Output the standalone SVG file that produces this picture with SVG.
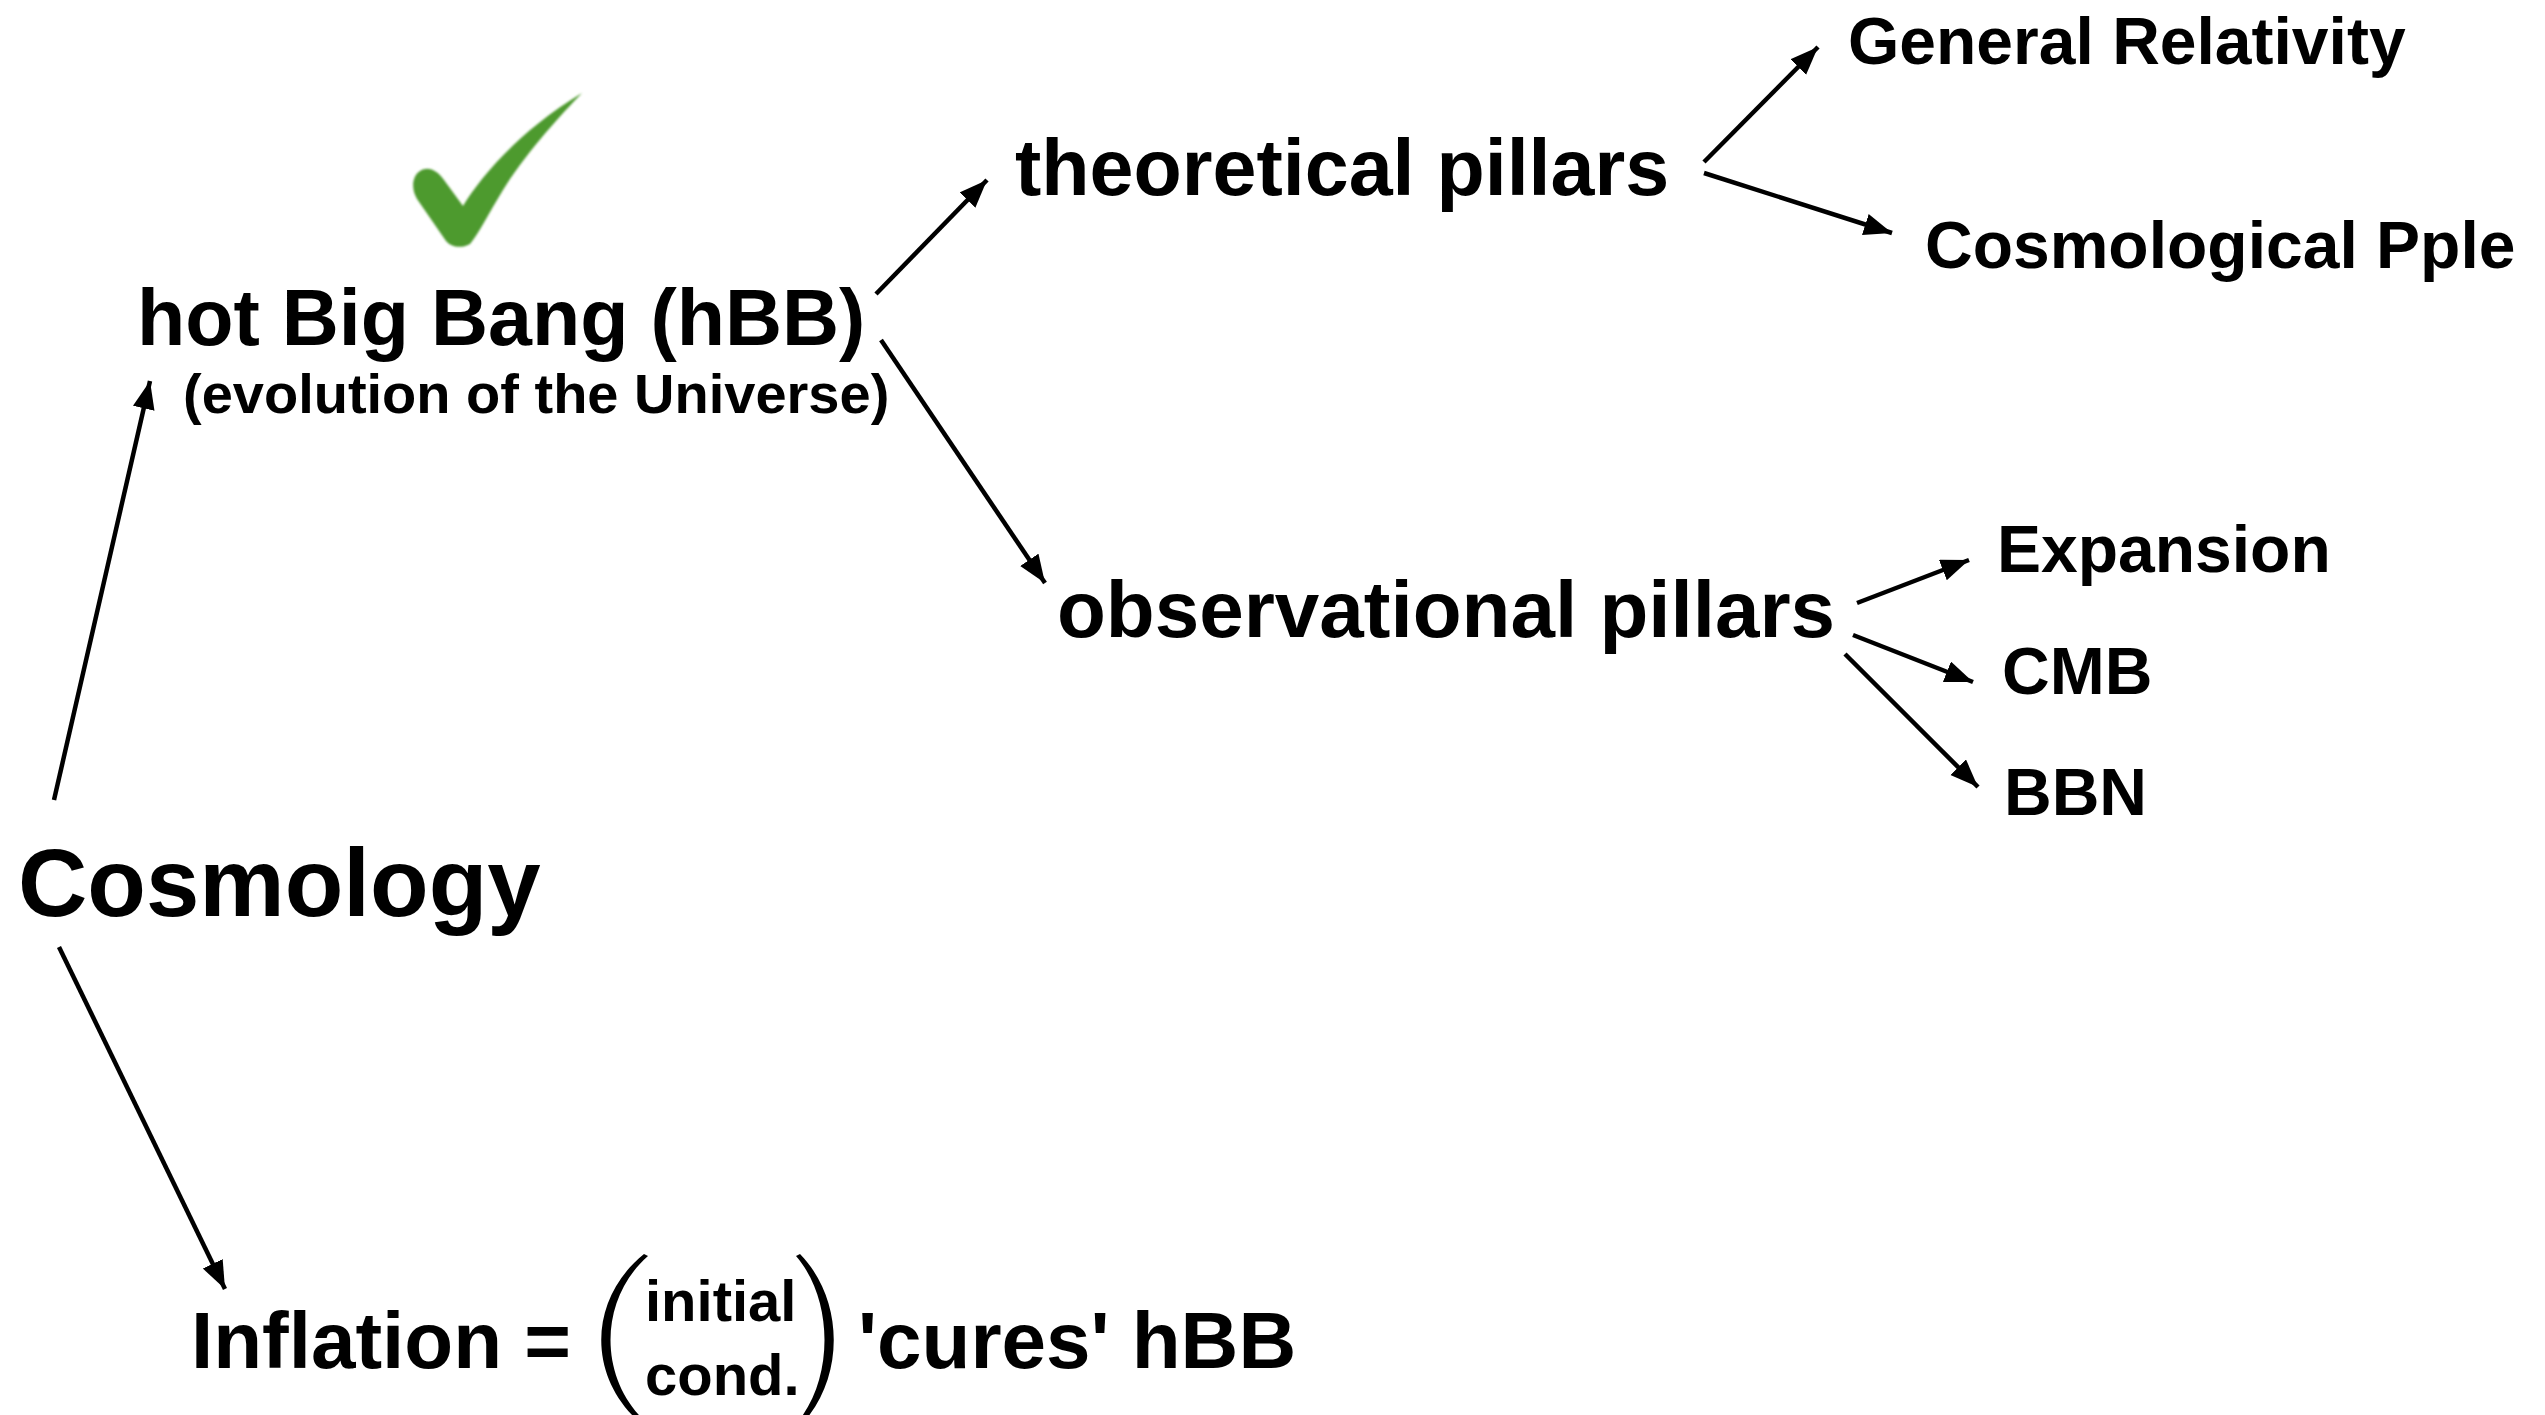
<svg xmlns="http://www.w3.org/2000/svg" width="2545" height="1415" viewBox="0 0 2545 1415">
<style>
text{font-family:"Liberation Sans",Arial,Helvetica,sans-serif;font-weight:bold;fill:#000}
.main{font-size:79px}
.leaf{font-size:66px}
.con{stroke:#000;stroke-width:4.5;fill:none;marker-end:url(#ah)}
</style>
<defs>
<marker id="ah" markerUnits="userSpaceOnUse" markerWidth="30" markerHeight="24" refX="28" refY="11" orient="auto">
<path d="M0,0 L28,11 L0,22 z" fill="#000"/>
</marker>
<filter id="soft" x="-10%" y="-10%" width="120%" height="120%"><feGaussianBlur stdDeviation="0.8"/></filter>
</defs>
<rect width="2545" height="1415" fill="#fff"/>
<g id="connectors">
<line class="con" x1="54" y1="800" x2="150" y2="381"/>
<line class="con" x1="59" y1="947" x2="225" y2="1289"/>
<line class="con" x1="876" y1="294" x2="987" y2="180"/>
<line class="con" x1="881" y1="340" x2="1045" y2="583"/>
<line class="con" x1="1704" y1="162" x2="1818" y2="47"/>
<line class="con" x1="1704" y1="173" x2="1892" y2="233"/>
<line class="con" x1="1857" y1="603" x2="1969" y2="560"/>
<line class="con" x1="1853" y1="635" x2="1973" y2="682"/>
<line class="con" x1="1845" y1="654" x2="1978" y2="787"/>
</g>
<g id="node-cosmology"><text x="18" y="916" style="font-size:96px">Cosmology</text></g>
<g id="node-hbb">
<path d="M420 171 C428 166,437 170,444 180 L463 206 C480 178,520 130,582 93 C562 114,528 150,503 190 C489 213,479 233,470 244 C461 249,451 247,446 241 L417 199 C411 189,412 176,420 171 Z" fill="#4d9a2f" filter="url(#soft)"/>
<text class="main" x="137" y="345">hot Big Bang (hBB)</text>
<text x="183" y="413" style="font-size:56px">(evolution of the Universe)</text>
</g>
<g id="node-theoretical"><text class="main" x="1015" y="195">theoretical pillars</text></g>
<g id="node-observational"><text x="1057" y="637" style="font-size:80px">observational pillars</text></g>
<g id="node-gr"><text class="leaf" x="1848" y="64">General Relativity</text></g>
<g id="node-cp"><text class="leaf" x="1925" y="268">Cosmological Pple</text></g>
<g id="node-expansion"><text class="leaf" x="1997" y="572">Expansion</text></g>
<g id="node-cmb"><text class="leaf" x="2002" y="694">CMB</text></g>
<g id="node-bbn"><text class="leaf" x="2004" y="815">BBN</text></g>
<g id="node-inflation">
<text x="191" y="1368" style="font-size:80px">Inflation =</text>
<path d="M644 1254 C587 1300,587 1380,644 1426 L648 1424 C598 1380,598 1300,648 1256 Z" fill="#000"/>
<text x="645" y="1321" style="font-size:58px">initial</text>
<text x="645" y="1395" style="font-size:58px">cond.</text>
<path d="M800 1254 C845 1300,845 1380,800 1426 L796 1424 C834 1380,834 1300,796 1256 Z" fill="#000"/>
<text x="858" y="1368" style="font-size:80px">'cures' hBB</text>
</g>
</svg>
